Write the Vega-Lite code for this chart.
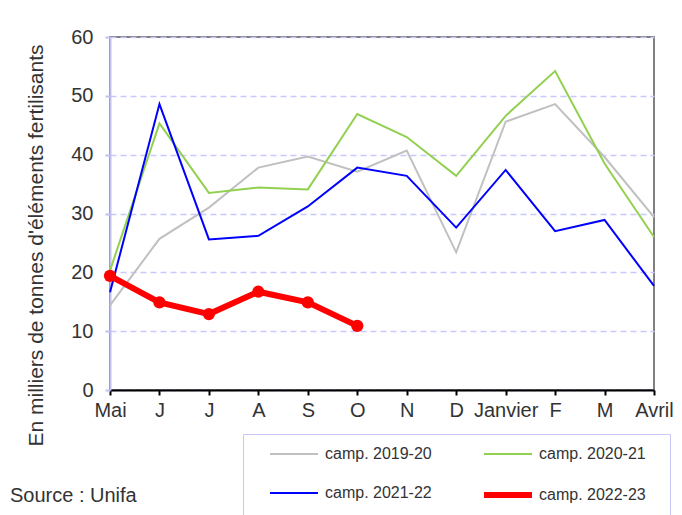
{
  "$schema": "https://vega.github.io/schema/vega-lite/v6.json",
  "width": 544,
  "height": 353,
  "autosize": "none",
  "padding": {"left": 110, "top": 37, "right": 28, "bottom": 125},
  "background": "white",
  "config": {
    "font": "Liberation Sans",
    "view": {"stroke": "#808080", "strokeWidth": 2},
    "legend": {
      "title": " ",
      "titleOrient": "right",
      "titlePadding": 13,
      "titleFontSize": 8,
      "orient": "none",
      "legendX": 133,
      "legendY": 397,
      "columns": 2,
      "direction": "horizontal",
      "symbolType": "M-3,0H3",
      "symbolSize": 256,
      "symbolOffset": 29,
      "labelFontSize": 16,
      "labelFont": "Liberation Sans",
      "labelColor": "#333333",
      "labelOffset": 20,
      "strokeColor": "#c8c8f8",
      "padding": 11,
      "columnPadding": 36,
      "rowPadding": 21
    }
  },
  "title": {
    "text": "Source : Unifa",
    "orient": "bottom",
    "anchor": "start",
    "frame": "group",
    "dx": -100,
    "dy": -33,
    "offset": 0,
    "fontSize": 20,
    "fontWeight": "normal",
    "font": "Liberation Sans",
    "color": "#333333"
  },
  "data": {
    "values": [
      {"mois": "Mai", "camp": "camp. 2019-20", "v": 14.4},
      {"mois": "Juin", "camp": "camp. 2019-20", "v": 25.7},
      {"mois": "Juillet", "camp": "camp. 2019-20", "v": 31.0},
      {"mois": "Août", "camp": "camp. 2019-20", "v": 37.8},
      {"mois": "Septembre", "camp": "camp. 2019-20", "v": 39.7},
      {"mois": "Octobre", "camp": "camp. 2019-20", "v": 37.1},
      {"mois": "Novembre", "camp": "camp. 2019-20", "v": 40.7},
      {"mois": "Décembre", "camp": "camp. 2019-20", "v": 23.4},
      {"mois": "Janvier", "camp": "camp. 2019-20", "v": 45.6},
      {"mois": "Février", "camp": "camp. 2019-20", "v": 48.6},
      {"mois": "Mars", "camp": "camp. 2019-20", "v": 39.6},
      {"mois": "Avril", "camp": "camp. 2019-20", "v": 29.4},
      {"mois": "Mai", "camp": "camp. 2020-21", "v": 20.3},
      {"mois": "Juin", "camp": "camp. 2020-21", "v": 45.3},
      {"mois": "Juillet", "camp": "camp. 2020-21", "v": 33.5},
      {"mois": "Août", "camp": "camp. 2020-21", "v": 34.4},
      {"mois": "Septembre", "camp": "camp. 2020-21", "v": 34.1},
      {"mois": "Octobre", "camp": "camp. 2020-21", "v": 46.9},
      {"mois": "Novembre", "camp": "camp. 2020-21", "v": 43.0},
      {"mois": "Décembre", "camp": "camp. 2020-21", "v": 36.4},
      {"mois": "Janvier", "camp": "camp. 2020-21", "v": 46.6},
      {"mois": "Février", "camp": "camp. 2020-21", "v": 54.2},
      {"mois": "Mars", "camp": "camp. 2020-21", "v": 38.5},
      {"mois": "Avril", "camp": "camp. 2020-21", "v": 26.0},
      {"mois": "Mai", "camp": "camp. 2021-22", "v": 16.6},
      {"mois": "Juin", "camp": "camp. 2021-22", "v": 48.6},
      {"mois": "Juillet", "camp": "camp. 2021-22", "v": 25.6},
      {"mois": "Août", "camp": "camp. 2021-22", "v": 26.2},
      {"mois": "Septembre", "camp": "camp. 2021-22", "v": 31.2},
      {"mois": "Octobre", "camp": "camp. 2021-22", "v": 37.8},
      {"mois": "Novembre", "camp": "camp. 2021-22", "v": 36.4},
      {"mois": "Décembre", "camp": "camp. 2021-22", "v": 27.6},
      {"mois": "Janvier", "camp": "camp. 2021-22", "v": 37.4},
      {"mois": "Février", "camp": "camp. 2021-22", "v": 27.0},
      {"mois": "Mars", "camp": "camp. 2021-22", "v": 28.9},
      {"mois": "Avril", "camp": "camp. 2021-22", "v": 17.7},
      {"mois": "Mai", "camp": "camp. 2022-23", "v": 19.4},
      {"mois": "Juin", "camp": "camp. 2022-23", "v": 14.9},
      {"mois": "Juillet", "camp": "camp. 2022-23", "v": 12.9},
      {"mois": "Août", "camp": "camp. 2022-23", "v": 16.7},
      {"mois": "Septembre", "camp": "camp. 2022-23", "v": 14.9},
      {"mois": "Octobre", "camp": "camp. 2022-23", "v": 10.9}
    ]
  },
  "encoding": {
    "x": {
      "field": "mois",
      "type": "ordinal",
      "sort": ["Mai", "Juin", "Juillet", "Août", "Septembre", "Octobre", "Novembre", "Décembre", "Janvier", "Février", "Mars", "Avril"],
      "scale": {"type": "point", "padding": 0},
      "axis": {
        "title": null,
        "labelAngle": 0,
        "labelExpr": "indexof(['Mai','Janvier','Avril'], datum.value) >= 0 ? datum.value : slice(datum.value, 0, 1)",
        "labelFontSize": 20,
        "labelColor": "#333333",
        "labelPadding": 5,
        "labelFont": "Liberation Sans",
        "domainColor": "#000000",
        "domainWidth": 2,
        "tickColor": "#000000",
        "tickWidth": 2,
        "tickSize": 5,
        "grid": false
      }
    },
    "y": {
      "field": "v",
      "type": "quantitative",
      "scale": {"domain": [0, 60], "nice": false},
      "axis": {
        "values": [0, 10, 20, 30, 40, 50, 60],
        "title": "En milliers de tonnes d'éléments fertilisants",
        "titleFontSize": 21,
        "titleFontWeight": "normal",
        "titleColor": "#333333",
        "titleFont": "Liberation Sans",
        "titleAngle": 270,
        "titleAlign": "center",
        "titleBaseline": "middle",
        "titleX": -74,
        "titleY": 208,
        "labelFontSize": 20,
        "labelColor": "#333333",
        "labelFont": "Liberation Sans",
        "labelPadding": 12,
        "domainColor": "#c0c0f0",
        "domainWidth": 2,
        "tickColor": "#c0c0f0",
        "tickWidth": 2,
        "tickSize": 5,
        "grid": true,
        "gridColor": "#c8c8ff",
        "gridDash": [6, 4],
        "gridWidth": 1.5
      }
    }
  },
  "layer": [
    {
      "mark": {"type": "line"},
      "encoding": {
        "color": {
          "field": "camp",
          "type": "nominal",
          "scale": {
            "domain": ["camp. 2019-20", "camp. 2020-21", "camp. 2021-22", "camp. 2022-23"],
            "range": ["#c0c0c0", "#92d050", "#0000ff", "#ff0000"]
          },
          "legend": {"title": " "}
        },
        "strokeWidth": {
          "field": "camp",
          "type": "nominal",
          "scale": {
            "type": "ordinal",
            "domain": ["camp. 2019-20", "camp. 2020-21", "camp. 2021-22", "camp. 2022-23"],
            "range": [2, 2, 2, 6]
          },
          "legend": {"title": " "}
        }
      }
    },
    {
      "transform": [{"filter": "datum.camp === 'camp. 2022-23'"}],
      "mark": {"type": "point", "filled": true, "color": "#ff0000", "size": 150, "opacity": 1}
    }
  ]
}
